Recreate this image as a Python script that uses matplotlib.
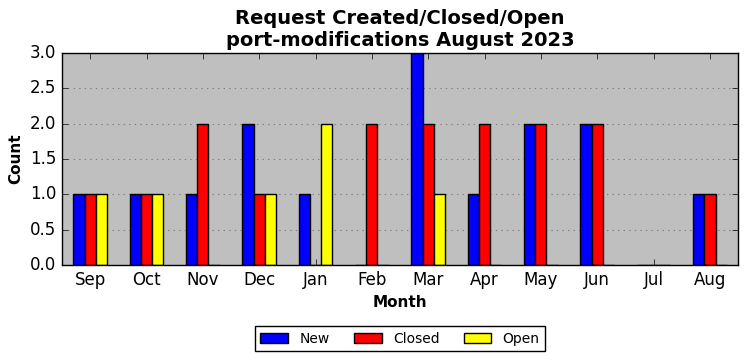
import numpy as np
import matplotlib
matplotlib.use("Agg")
import matplotlib.pyplot as plt

plt.style.use("classic")

months = ["Sep", "Oct", "Nov", "Dec", "Jan", "Feb", "Mar", "Apr", "May", "Jun", "Jul", "Aug"]
new = [1, 1, 1, 2, 1, 0, 3, 1, 2, 2, 0, 1]
closed = [1, 1, 2, 1, 0, 2, 2, 2, 2, 2, 0, 1]
opened = [1, 1, 0, 1, 2, 0, 1, 0, 0, 0, 0, 0]

fig = plt.figure(figsize=(7.47, 3.61), dpi=100, facecolor="white")
ax = fig.add_axes([0.083, 0.266, 0.905, 0.587])
ax.set_facecolor("#bfbfbf")

x = np.arange(len(months))
w = 0.2
ax.bar(x - w, new, w, color="blue", edgecolor="black", label="New", align="center")
ax.bar(x, closed, w, color="red", edgecolor="black", label="Closed", align="center")
ax.bar(x + w, opened, w, color="yellow", edgecolor="black", label="Open", align="center")

ax.set_xlim(-0.5, len(months) - 0.5)
ax.set_ylim(0, 3)
ax.set_yticks(np.arange(0, 3.01, 0.5))
ax.set_xticks(x)
ax.set_xticklabels(months, fontsize=12)
ax.tick_params(axis="y", labelsize=12)
ax.yaxis.grid(True, color="gray", linestyle=":", linewidth=0.8)
ax.set_axisbelow(True)

ax.set_xlabel("Month", fontsize=11, fontweight="bold")
ax.set_ylabel("Count", fontsize=11, fontweight="bold")
ax.set_title("Request Created/Closed/Open\nport-modifications August 2023", fontsize=14, fontweight="bold")

ax.legend(loc="upper center", bbox_to_anchor=(0.5, -0.255), ncol=3, fontsize=10,
          frameon=True, columnspacing=1.75)

fig.savefig("out.png", dpi=100, facecolor="white")
